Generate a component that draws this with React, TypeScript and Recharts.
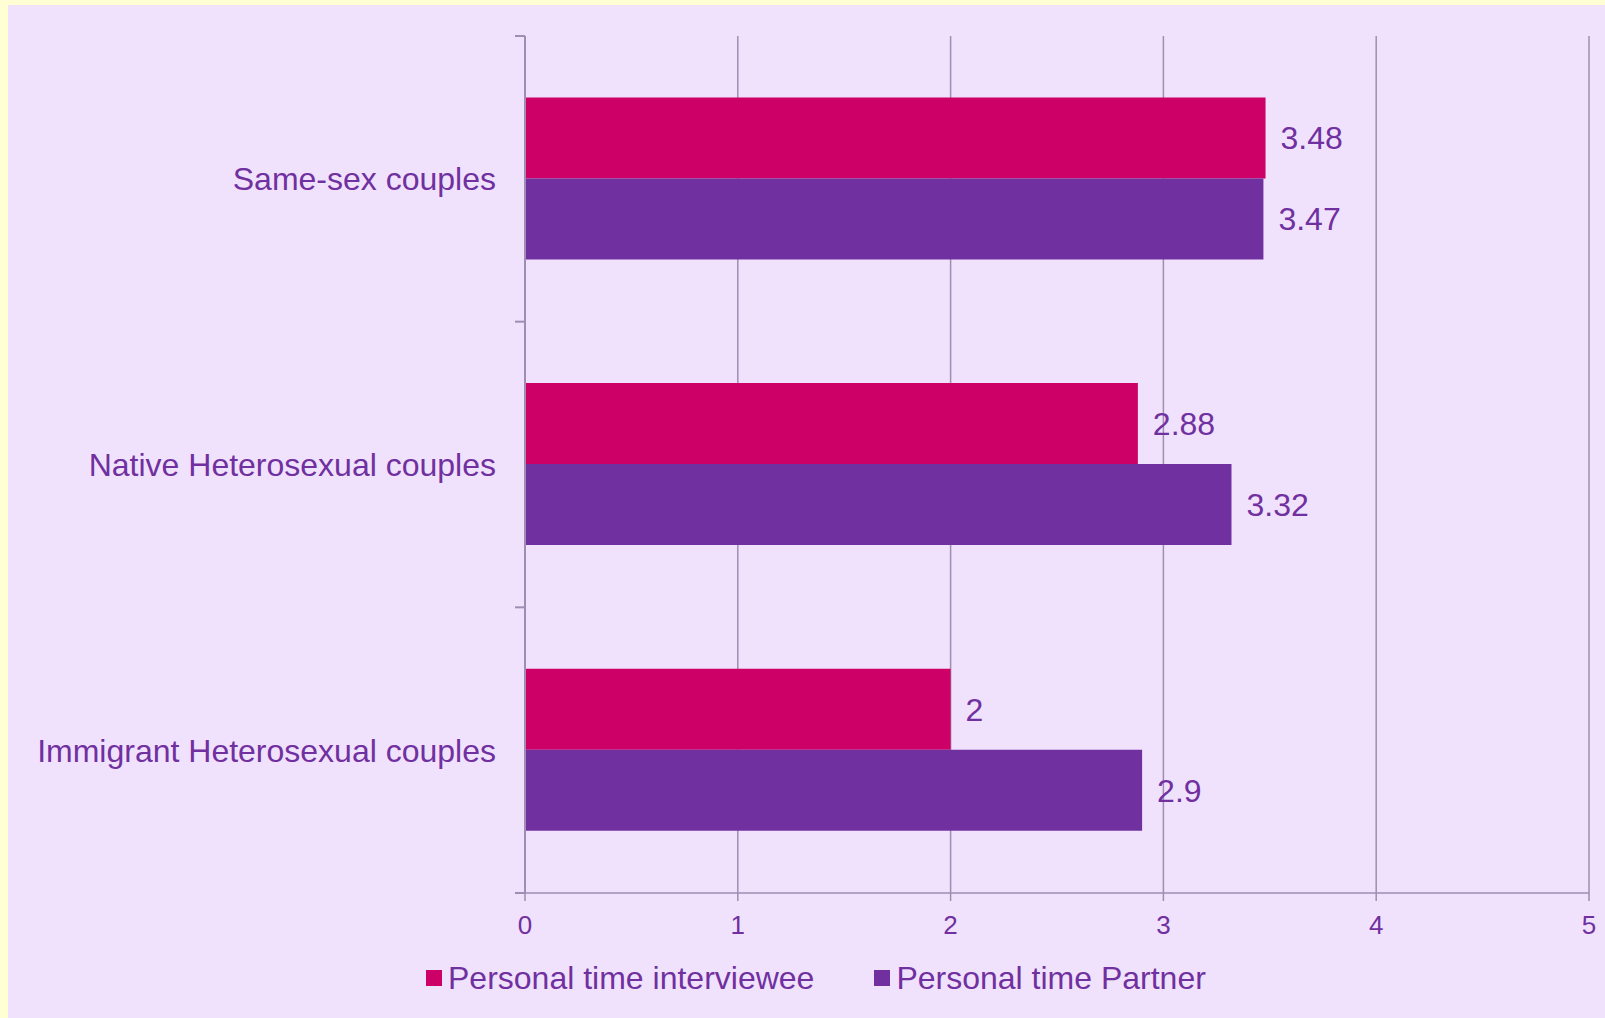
import { BarChart, Bar, XAxis, YAxis, CartesianGrid, Legend, LabelList } from 'recharts';

const categories = ['Same-sex couples', 'Native Heterosexual couples', 'Immigrant Heterosexual couples'];
const interviewee = [3.48, 2.88, 2];
const partner = [3.47, 3.32, 2.9];
const seriesNames = ['Personal time interviewee', 'Personal time Partner'];
const xTicks = [0, 1, 2, 3, 4, 5];

const data = categories.map((name, i) => ({
  name,
  interviewee: interviewee[i],
  partner: partner[i],
}));

const FONT = '"Liberation Sans", Arial, sans-serif';
const TEXT = '#7030a0';
const AXIS = '#a08db3';

// category labels, with the small tick marks sitting on the band edges
const CategoryTick = (props: any) => {
  const { x, y, payload, index } = props;
  const half = payload?.offset ?? 0;
  const axisX = x + 29;
  const last = index === categories.length - 1;
  return (
    <g>
      <line x1={axisX - 10} x2={axisX} y1={y - half} y2={y - half} stroke={AXIS} strokeWidth={2} />
      {last && <line x1={axisX - 10} x2={axisX} y1={y + half} y2={y + half} stroke={AXIS} strokeWidth={2} />}
      <text x={x} y={y} dy="0.355em" textAnchor="end" fill={TEXT} fontSize={32} fontFamily={FONT}>
        {payload.value}
      </text>
    </g>
  );
};

const renderLegend = (props: any) => {
  const items = [...(props.payload || [])].sort(
    (a: any, b: any) => seriesNames.indexOf(a.value) - seriesNames.indexOf(b.value)
  );
  return (
    <div style={{ height: 50, display: 'flex', alignItems: 'center', paddingLeft: 418, fontFamily: FONT }}>
      {items.map((item: any) => (
        <div key={item.value} style={{ display: 'flex', alignItems: 'center', marginRight: 60 }}>
          <span style={{ width: 16, height: 16, background: item.color, marginRight: 6, display: 'inline-block' }} />
          <span style={{ fontSize: 32, color: TEXT, lineHeight: '36px' }}>{item.value}</span>
        </div>
      ))}
    </div>
  );
};

export default function App() {
  return (
    <div style={{ position: 'absolute', left: 0, top: 0, width: 1605, height: 1018, background: '#ffffd3' }}>
      <div style={{ position: 'absolute', left: 8, top: 5, width: 1597, height: 1013, background: '#f0e2fc', fontFamily: FONT }}>
        <BarChart
          width={1597}
          height={1013}
          data={data}
          layout="vertical"
          margin={{ top: 31, right: 16, left: 0, bottom: 15 }}
          barCategoryGap="21.5%"
          barGap={0}
        >
          <CartesianGrid horizontal={false} stroke={AXIS} strokeWidth={1.5} />
          <XAxis
            type="number"
            domain={[0, 5]}
            ticks={xTicks}
            height={60}
            tickSize={8}
            tickMargin={15}
            axisLine={{ stroke: AXIS, strokeWidth: 1.5 }}
            tickLine={{ stroke: AXIS, strokeWidth: 1.5 }}
            tick={{ fill: TEXT, fontSize: 26, fontFamily: FONT }}
          />
          <YAxis
            type="category"
            dataKey="name"
            width={517}
            tickSize={10}
            tickMargin={19}
            tickLine={false}
            axisLine={{ stroke: AXIS, strokeWidth: 2 }}
            tick={<CategoryTick />}
          />
          <Legend verticalAlign="bottom" content={renderLegend} />
          <Bar dataKey="interviewee" name={seriesNames[0]} fill="#cc0066" isAnimationActive={false}>
            <LabelList dataKey="interviewee" position="right" offset={15} fill={TEXT} fontSize={32} fontFamily={FONT} />
          </Bar>
          <Bar dataKey="partner" name={seriesNames[1]} fill="#7030a0" isAnimationActive={false}>
            <LabelList dataKey="partner" position="right" offset={15} fill={TEXT} fontSize={32} fontFamily={FONT} />
          </Bar>
        </BarChart>
      </div>
    </div>
  );
}
